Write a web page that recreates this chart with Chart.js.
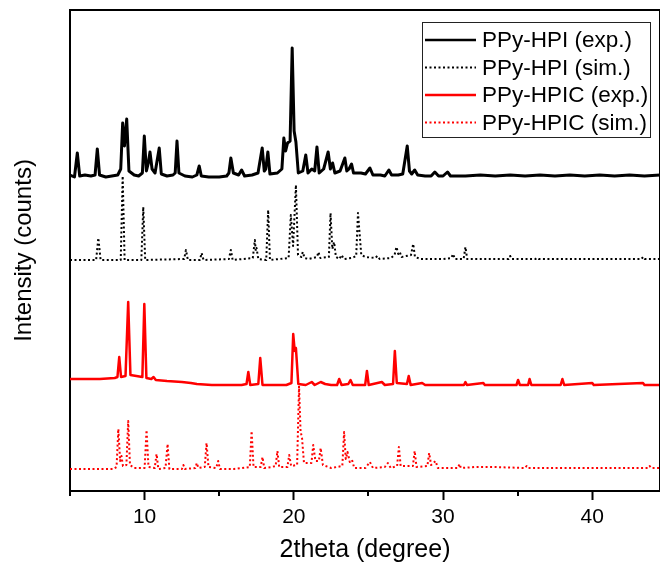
<!DOCTYPE html>
<html>
<head>
<meta charset="utf-8">
<script src="https://cdn.jsdelivr.net/npm/chart.js@4/dist/chart.umd.min.js"></script>
<style>
  html, body { margin: 0; padding: 0; background: #fff; }
</style>
</head>
<body>
<canvas id="chart" width="660" height="566"></canvas>
<script>
// series labels (legend order)
const seriesNames = ['PPy-HPI (exp.)', 'PPy-HPI (sim.)', 'PPy-HPIC (exp.)', 'PPy-HPIC (sim.)'];

// [2theta, intensity], stacked offsets already included
const hpiExp = [[5.0,316],[5.3,314],[5.49,338],[5.65,315],[6.0,316],[6.4,315],[6.68,316],[6.83,342],[6.98,316],[7.4,314],[7.8,315],[8.2,316],[8.4,322],[8.53,368],[8.65,345],[8.80,372],[8.95,320],[9.3,316],[9.6,315],[9.85,318],[9.98,355],[10.12,320],[10.25,328],[10.36,339],[10.5,322],[10.7,318],[10.98,343],[11.12,317],[11.5,315],[11.9,316],[12.05,318],[12.17,350],[12.3,318],[12.7,315],[13.2,314],[13.5,316],[13.66,325],[13.8,315],[14.3,314],[15.0,314],[15.5,315],[15.65,318],[15.78,333],[15.95,318],[16.3,316],[16.5,321],[16.7,315],[17.2,316],[17.6,318],[17.88,343],[18.02,320],[18.12,322],[18.26,339],[18.4,317],[18.9,318],[19.2,322],[19.33,353],[19.45,340],[19.58,348],[19.75,350],[19.89,443],[20.02,360],[20.14,349],[20.3,318],[20.6,320],[20.8,336],[20.95,318],[21.2,322],[21.4,320],[21.55,344],[21.7,318],[22.0,322],[22.3,339],[22.45,322],[22.6,328],[22.75,318],[23.1,320],[23.42,333],[23.55,320],[23.7,322],[23.87,327],[24.0,318],[24.5,318],[24.8,317],[25.1,323],[25.3,316],[25.8,316],[26.1,315],[26.37,321],[26.55,316],[27.0,316],[27.3,317],[27.6,345],[27.75,320],[27.9,317],[28.1,321],[28.3,316],[28.8,315],[29.2,315],[29.45,319],[29.7,315],[30.0,315],[30.3,319],[30.5,315],[31.5,315],[32.5,316],[33.5,315],[34.5,316],[35.5,315],[36.5,316],[37.5,315],[38.5,316],[39.5,315],[40.5,316],[41.5,315],[42.5,316],[43.5,315],[44.6,316]];

const hpiSim = [[5.0,231],[6.75,231],[6.9,253],[7.05,231],[8.4,231],[8.53,315],[8.66,231],[9.78,231],[9.91,284],[10.04,231],[12.65,232],[12.77,241],[12.9,231],[13.7,231],[13.82,238],[13.95,231],[15.65,232],[15.78,241],[15.9,231],[17.25,233],[17.39,251],[17.45,240],[17.5,243],[17.62,232],[18.15,231],[18.28,281],[18.4,231],[19.65,233],[19.8,276],[19.95,245],[20.14,306],[20.28,236],[20.5,234],[20.6,239],[20.72,233],[21.0,232],[21.55,234],[21.65,239],[21.78,233],[22.35,234],[22.46,278],[22.58,242],[22.7,249],[22.82,234],[23.05,232],[23.2,236],[23.35,232],[23.9,233],[24.18,235],[24.3,278],[24.4,259],[24.52,236],[24.8,234],[25.45,233],[25.6,235],[25.75,232],[26.5,233],[26.75,236],[26.88,244],[27.0,237],[27.1,239],[27.22,234],[27.85,236],[28.0,247],[28.12,234],[28.5,232],[30.0,232],[30.55,233],[30.67,237],[30.8,232],[31.38,232],[31.5,244],[31.62,232],[33.0,232],[34.4,232],[34.5,235],[34.6,232],[36.2,232],[36.3,233],[36.4,232],[40.0,232],[43.3,232],[43.4,234],[43.5,232],[44.6,232]];

const hpicExp = [[5.0,112],[6.0,112],[7.0,112],[8.0,113],[8.18,114],[8.3,134],[8.42,114],[8.72,115],[8.9,189],[9.05,116],[9.85,114],[9.98,187],[10.12,113],[10.45,112],[10.6,114],[10.75,111],[11.5,110],[12.5,109],[13.1,108],[13.5,107],[14.5,106],[15.5,106],[16.5,106],[16.83,107],[16.95,119],[17.08,106],[17.62,107],[17.75,133],[17.9,106],[18.5,106],[19.5,106],[19.84,108],[19.96,157],[20.06,140],[20.14,143],[20.3,107],[20.8,106],[21.2,109],[21.4,106],[21.8,109],[22.1,107],[22.5,106],[22.9,106],[23.04,112],[23.2,106],[23.65,107],[23.8,111],[23.95,106],[24.78,106],[24.9,120],[25.02,106],[25.9,109],[26.1,106],[26.65,107],[26.77,140],[26.9,108],[27.58,107],[27.7,115],[27.83,106],[28.6,108],[28.8,106],[31.4,106],[31.5,109],[31.6,106],[32.7,108],[32.8,106],[34.92,106],[35.03,111],[35.15,106],[35.7,106],[35.8,112],[35.92,106],[37.88,106],[38.0,112],[38.12,106],[40.0,108],[40.1,106],[43.4,108],[43.5,106],[44.6,106]];

const hpicSim = [[5.0,22],[7.9,22],[8.12,24],[8.24,62],[8.36,30],[8.45,35],[8.55,25],[8.78,26],[8.9,70],[9.02,26],[9.3,23],[9.6,23],[10.0,23],[10.13,61],[10.26,24],[10.68,23],[10.8,37],[10.92,22],[11.4,23],[11.54,47],[11.66,22],[12.5,22],[12.6,26],[12.7,22],[13.4,23],[13.5,28],[13.6,23],[14.03,24],[14.15,48],[14.28,24],[14.8,23],[14.93,30],[15.05,22],[16.0,22],[17.05,24],[17.17,60],[17.3,24],[17.78,24],[17.9,34],[18.02,23],[18.5,24],[18.78,25],[18.9,40],[19.02,24],[19.57,24],[19.69,36],[19.82,25],[20.22,26],[20.35,105],[20.45,60],[20.55,53],[20.68,28],[21.18,28],[21.3,46],[21.45,30],[21.68,30],[21.8,43],[21.95,26],[22.5,23],[23.25,25],[23.37,59],[23.48,32],[23.6,39],[23.75,29],[23.9,31],[24.05,23],[24.8,23],[25.1,29],[25.3,23],[26.1,24],[26.3,28],[26.5,23],[26.92,25],[27.04,44],[27.16,25],[27.98,25],[28.1,40],[28.22,24],[28.95,25],[29.07,38],[29.2,26],[29.5,30],[29.65,23],[31.0,23],[31.1,27],[31.2,23],[32.2,24],[33.35,24],[35.5,23],[35.6,25],[35.7,23],[38.0,23],[43.75,23],[43.85,25],[43.95,23],[44.6,23]];

const xTicks = [10, 20, 30, 40];
const xMinorTicks = [5, 15, 25, 35];

const FONT = "'Liberation Sans', Arial, sans-serif";
const toPts = arr => arr.map(p => ({ x: p[0], y: p[1] }));

// frame line on top + minor ticks on the x axis
const framePlugin = {
    id: 'frame',
    afterDraw(chart) {
        const { ctx, chartArea: a } = chart;
        const xs = chart.scales.x;
        ctx.save();
        ctx.strokeStyle = '#000';
        ctx.lineWidth = 2;
        ctx.beginPath();
        ctx.moveTo(a.left - 1, a.top);
        ctx.lineTo(a.right, a.top);
        ctx.moveTo(a.right, a.top);
        ctx.lineTo(a.right, a.bottom);
        xMinorTicks.forEach(v => {
            const px = Math.round(xs.getPixelForValue(v));
            ctx.moveTo(px, a.bottom);
            ctx.lineTo(px, a.bottom + 5);
        });
        ctx.stroke();
        ctx.restore();
    }
};

// boxed legend in the top right corner
const legendBox = {
    id: 'legendBox',
    afterDraw(chart) {
        const ctx = chart.ctx;
        const rows = [40, 67.5, 95, 122.5];
        ctx.save();
        ctx.fillStyle = '#fff';
        ctx.fillRect(422.5, 22.5, 228, 115);
        ctx.strokeStyle = '#222';
        ctx.lineWidth = 1;
        ctx.strokeRect(422.5, 22.5, 228, 115);
        chart.data.datasets.forEach((ds, i) => {
            ctx.beginPath();
            ctx.strokeStyle = ds.borderColor;
            ctx.lineWidth = ds.borderDash.length ? 2 : 2.5;
            ctx.setLineDash(ds.borderDash);
            ctx.moveTo(425, rows[i]);
            ctx.lineTo(476, rows[i]);
            ctx.stroke();
            ctx.setLineDash([]);
            ctx.fillStyle = '#000';
            ctx.font = '22.5px ' + FONT;
            ctx.textBaseline = 'middle';
            ctx.fillText(ds.label, 482, rows[i] + 1);
        });
        ctx.restore();
    }
};

const ctx = document.getElementById('chart').getContext('2d');
const chart = new Chart(ctx, {
    type: 'line',
    data: {
        datasets: [
            { label: seriesNames[0], data: toPts(hpiExp), borderColor: '#000000', borderWidth: 3, borderDash: [] },
            { label: seriesNames[1], data: toPts(hpiSim), borderColor: '#000000', borderWidth: 2, borderDash: [2, 2.5] },
            { label: seriesNames[2], data: toPts(hpicExp), borderColor: '#ff0000', borderWidth: 2.5, borderDash: [] },
            { label: seriesNames[3], data: toPts(hpicSim), borderColor: '#ff0000', borderWidth: 2, borderDash: [2, 2.5] }
        ]
    },
    options: {
        responsive: false,
        animation: false,
        devicePixelRatio: 1,
        elements: {
            point: { radius: 0 },
            line: { tension: 0, borderJoinStyle: 'round', fill: false }
        },
        layout: { padding: { top: 10, right: 0, bottom: 0, left: 0 } },
        plugins: {
            legend: { display: false },
            tooltip: { enabled: false }
        },
        scales: {
            x: {
                type: 'linear',
                min: 5,
                max: 44.54,
                afterBuildTicks: s => { s.ticks = xTicks.map(v => ({ value: v })); },
                afterFit: s => { s.height = 75; },
                ticks: { color: '#000', font: { size: 21, family: FONT }, padding: 5, maxRotation: 0, autoSkip: false },
                grid: { drawOnChartArea: false, drawTicks: true, tickLength: 9, tickWidth: 2, tickColor: '#000' },
                border: { display: true, color: '#000', width: 2 },
                title: { display: true, text: '2theta (degree)', color: '#000', font: { size: 25, family: FONT }, padding: { top: 0, bottom: 1 } }
            },
            y: {
                min: 0,
                max: 481,
                afterFit: s => { s.width = 70; },
                ticks: { display: false },
                grid: { display: false },
                border: { display: true, color: '#000', width: 2 },
                title: { display: true, text: 'Intensity (counts)', color: '#000', font: { size: 24, family: FONT }, padding: { top: 10, bottom: 0 } }
            }
        }
    },
    plugins: [framePlugin, legendBox]
});
</script>
</body>
</html>
